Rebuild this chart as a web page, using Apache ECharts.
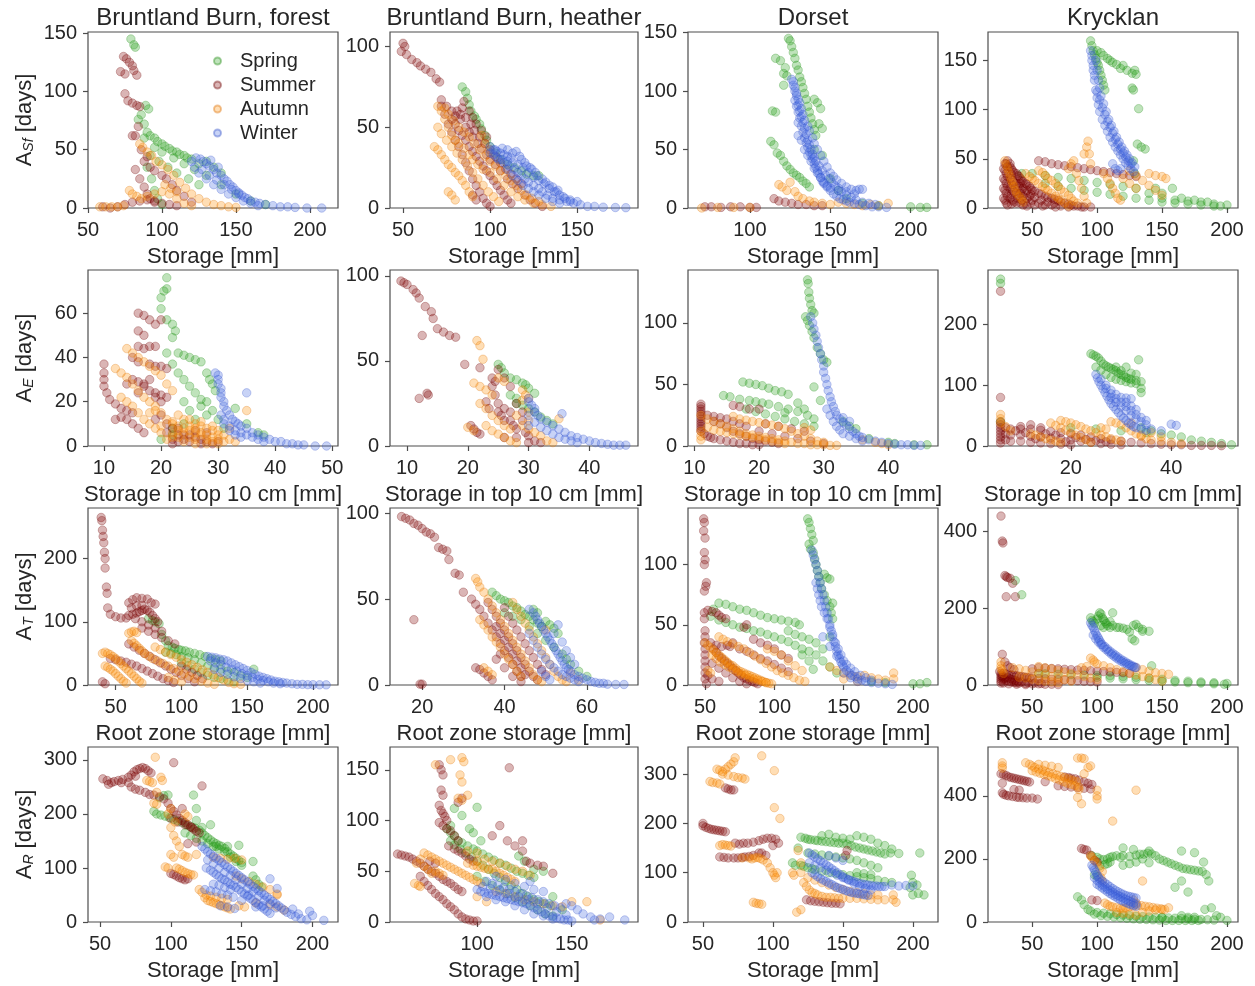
<!DOCTYPE html>
<html>
<head>
<meta charset="utf-8">
<script src="https://cdn.jsdelivr.net/npm/echarts@6/dist/echarts.min.js"></script>
<style>
html, body { margin: 0; padding: 0; background: #fff; }
#app { width: 1255px; height: 986px; }
</style>
</head>
<body>
<div id="app"></div>
<script>
// points are [storage, age], one array per panel and season

// --- row 1: A_Sf vs storage ---
var bbfSfSpr = [[79,145],[81,140],[82,138],[86,80],[84,76],[88,72],[89,88],[91,85],[90,65],[95,60],[100,55],[105,51],[110,48],[115,45],[120,42],[125,38],[88,60],[95,52],[100,48],[108,43],[115,38],[122,33],[130,28],[140,20],[150,12],[160,6],[170,3],[92,45],[98,40],[104,35],[110,30],[118,25],[125,20],[90,35],[93,25],[95,15],[97,8],[100,3],[130,40],[135,35],[140,30],[92,62],[97,57],[102,53],[107,49],[112,46],[117,43]];
var bbfSfSum = [[74,130],[76,128],[78,125],[80,122],[81,118],[83,114],[72,117],[75,115],[75,98],[77,92],[80,90],[83,88],[85,87],[80,62],[82,62],[84,70],[88,40],[92,35],[95,32],[100,28],[103,25],[107,20],[110,15],[115,10],[120,5],[82,33],[85,25],[88,18],[90,12],[92,8],[95,5],[75,3],[80,5],[85,6],[90,7],[95,6],[100,4],[105,3],[110,2],[60,1],[65,0],[70,1],[86,50],[90,44]];
var bbfSfAut = [[85,55],[87,52],[90,48],[93,45],[96,40],[100,37],[104,33],[108,28],[112,22],[116,17],[120,12],[125,8],[130,5],[135,3],[140,2],[145,1],[150,0.5],[78,15],[80,12],[83,10],[86,8],[90,10],[95,12],[100,14],[105,12],[110,8],[115,4],[120,2],[58,1],[62,1],[66,1],[70,1],[74,2],[102,20],[106,17],[110,14]];
var bbfSfWin = [[120,40],[123,43],[126,42],[128,40],[130,38],[132,36],[133,41],[135,33],[137,30],[138,35],[140,28],[142,25],[144,23],[146,20],[148,18],[150,15],[152,13],[154,11],[156,9],[158,8],[160,6],[163,5],[166,4],[170,3],[175,2],[180,1],[185,1],[190,0.5],[198,0],[208,0],[125,30],[130,25],[135,20],[140,16],[145,12],[150,9],[155,6],[160,4],[165,2],[122,35],[127,33],[132,28],[137,24],[142,20],[147,16],[152,12]];

var bbhSfSpr = [[84,75],[86,72],[87,68],[88,64],[89,60],[91,57],[92,55],[94,52],[95,49],[97,45],[98,42],[100,38],[103,34],[106,30],[110,27],[114,25],[118,23],[121,21],[125,20],[128,20]];
var bbhSfSum = [[50,102],[51,100],[49,97],[52,95],[55,92],[58,90],[60,88],[63,86],[66,84],[69,80],[71,78],[72,67],[75,63],[78,60],[80,57],[83,55],[86,50],[88,47],[90,44],[93,40],[95,37],[98,33],[100,30],[103,27],[106,23],[110,18],[113,15],[116,12],[120,8],[123,5],[126,3],[130,1],[72,63],[74,58],[76,52],[78,47],[80,42],[82,38],[84,33],[86,28],[88,23],[90,18],[92,14],[94,10],[96,6],[98,3],[100,1],[85,66],[84,62],[88,60],[90,56],[92,52],[95,48],[98,44],[90,8],[92,5],[78,55],[80,52],[82,48],[84,45],[86,42],[88,38],[90,35],[92,32],[94,29],[96,26],[98,23],[100,20],[102,17],[104,14],[106,11],[108,8],[110,5],[112,3],[81,60],[83,58],[86,56],[89,52],[91,48],[94,44],[97,40],[100,36],[103,32],[106,28],[109,24],[112,21],[115,18],[118,15]];
var bbhSfAut = [[70,63],[72,60],[74,55],[76,50],[78,45],[80,42],[82,40],[85,37],[88,33],[90,30],[93,27],[96,24],[100,22],[104,18],[108,14],[112,10],[116,7],[120,5],[125,3],[130,2],[135,1],[68,38],[70,36],[72,33],[74,30],[76,27],[78,25],[80,22],[82,20],[84,17],[86,14],[88,10],[90,7],[76,10],[78,8],[80,5],[95,45],[97,40],[99,35],[74,62],[76,58],[79,54],[82,50],[85,47],[88,44],[91,40],[94,36],[97,32],[100,29],[103,26],[106,23],[109,20],[112,17],[115,14],[118,11],[121,8],[124,6],[128,4],[70,50],[72,46],[75,42],[78,38],[81,34],[84,30],[87,26],[90,22],[93,18],[96,14],[99,10],[102,7],[105,4]];
var bbhSfWin = [[100,38],[102,36],[104,35],[106,34],[108,33],[110,32],[112,31],[105,30],[108,28],[111,26],[114,24],[116,22],[118,20],[120,18],[122,16],[125,14],[128,12],[130,10],[133,8],[136,6],[140,5],[144,4],[148,3],[152,2],[156,1],[160,1],[165,0.5],[172,0.3],[178,0.2],[115,35],[117,32],[120,28],[123,25],[126,22],[130,18],[134,14],[138,10],[142,7],[146,5],[150,4],[102,33],[104,31],[107,30],[110,29],[113,28],[116,27],[119,25],[122,22],[125,19],[128,17],[131,15],[134,12],[137,10],[140,8],[143,6],[146,4],[100,34],[103,36],[107,37],[110,36],[113,34],[118,30],[121,26],[124,24],[127,20],[132,16],[136,13],[139,11],[110,24],[113,20],[116,17],[119,14],[122,12],[125,10],[128,8],[132,6],[136,4],[140,3]];

var dorSfSpr = [[124,145],[125,143],[126,138],[127,133],[128,128],[129,122],[130,118],[131,112],[132,108],[133,103],[134,98],[135,93],[136,87],[137,82],[138,77],[139,72],[140,67],[141,62],[116,128],[119,126],[122,120],[121,115],[123,113],[121,105],[114,83],[116,82],[113,57],[115,54],[117,47],[119,45],[121,40],[123,36],[125,33],[127,30],[129,28],[131,26],[133,23],[135,21],[137,18],[140,93],[142,90],[144,85],[143,72],[145,68],[140,50],[145,45],[150,25],[155,15],[160,8],[170,4],[180,2],[200,1],[206,0.5],[210,0.5]];
var dorSfSum = [[115,8],[118,6],[122,5],[126,4],[130,3],[135,3],[140,2],[145,2],[72,1],[76,1],[82,0.5],[88,1],[94,1],[100,0.5],[104,0.5]];
var dorSfAut = [[118,20],[120,18],[123,15],[125,22],[128,14],[130,10],[133,8],[137,6],[140,5],[145,4],[150,3],[155,5],[160,4],[165,3],[170,2],[175,3],[180,2],[186,4],[70,0],[80,0.5],[90,0.5],[100,0.5]];
var dorSfWin = [[126,110],[127,105],[128,100],[129,96],[128,92],[129,87],[130,82],[131,77],[130,73],[132,70],[133,65],[134,60],[135,56],[136,52],[137,48],[138,45],[139,42],[140,38],[141,35],[142,32],[143,29],[144,26],[145,23],[146,21],[148,18],[150,15],[152,12],[154,10],[156,8],[158,7],[160,6],[162,5],[165,4],[168,3],[172,2],[176,1],[180,1],[185,0.5],[130,62],[132,58],[134,50],[136,45],[138,40],[140,34],[142,30],[144,26],[146,22],[148,19],[150,17],[155,15],[160,14],[165,12],[168,16],[127,108],[128,103],[129,98],[130,93],[130,88],[131,83],[132,78],[133,73],[134,68],[135,63],[136,58],[137,54],[138,50],[139,46],[140,43],[141,40],[143,36],[145,32],[147,28],[149,25],[151,22],[153,19],[155,17],[157,14],[160,11],[163,9],[166,7],[170,5],[174,4],[178,3],[131,90],[132,85],[133,80],[134,75],[136,70],[137,66],[139,60],[140,55],[142,50],[144,45],[146,40],[148,35],[150,30],[152,27],[154,24],[157,21],[160,18],[163,16],[166,15],[170,16]];

var krySfSpr = [[95,170],[96,165],[97,160],[98,156],[99,152],[100,148],[101,145],[102,140],[103,135],[104,130],[105,125],[106,120],[100,160],[103,158],[105,155],[108,152],[110,150],[112,148],[115,146],[118,142],[120,145],[123,140],[127,137],[129,140],[130,136],[127,122],[128,120],[132,101],[131,65],[134,62],[137,60],[128,48],[129,35],[42,35],[50,35],[60,33],[70,31],[80,30],[90,28],[100,26],[110,24],[120,22],[130,20],[140,15],[150,10],[160,8],[170,7],[180,6],[190,4],[200,3],[60,25],[70,22],[80,20],[90,18],[100,16],[110,14],[120,12],[130,10],[140,8],[150,6],[160,5],[170,4],[180,3],[190,2],[145,20],[150,15],[158,20],[165,10],[175,8],[185,6],[195,2]];
var krySfSum = [[28,40],[28,30],[28,20],[28,10],[30,45],[30,35],[30,25],[30,15],[30,5],[33,42],[33,30],[33,20],[33,10],[35,38],[35,28],[35,18],[35,8],[38,35],[38,25],[38,15],[38,5],[40,32],[40,22],[40,12],[42,28],[42,18],[42,8],[45,25],[45,15],[45,5],[48,22],[48,12],[50,18],[50,8],[55,15],[55,5],[60,12],[60,3],[65,10],[65,3],[70,8],[75,5],[80,3],[85,2],[90,1],[95,1],[31,48],[33,45],[55,48],[60,47],[65,45],[70,44],[75,43],[80,42],[85,41],[90,40],[95,39],[100,38],[105,37],[110,36],[115,35],[120,34],[125,33],[130,32],[29,45],[29,38],[29,28],[29,18],[29,8],[31,42],[31,32],[31,22],[31,12],[31,3],[34,40],[34,34],[34,24],[34,14],[34,4],[36,36],[36,26],[36,16],[36,6],[39,33],[39,20],[39,10],[41,30],[41,25],[41,15],[41,5],[43,27],[43,20],[43,12],[43,3],[46,24],[46,18],[46,10],[46,2],[49,20],[49,14],[49,5],[52,17],[52,11],[52,3],[57,14],[57,8],[62,11],[62,6],[67,9],[67,5],[72,6],[72,2],[78,4],[82,2],[88,1],[58,2],[68,1],[78,1]];
var krySfAut = [[29,48],[31,40],[33,32],[35,25],[37,18],[40,12],[43,6],[45,35],[50,30],[55,25],[60,20],[65,15],[70,10],[75,5],[78,2],[55,38],[60,33],[65,28],[70,22],[75,16],[80,10],[85,5],[78,40],[80,45],[82,48],[84,35],[86,28],[88,20],[90,12],[92,5],[90,55],[92,62],[93,68],[94,55],[95,45],[105,35],[108,30],[110,25],[112,20],[114,15],[116,10],[118,8],[125,38],[130,33],[135,28],[140,23],[145,18],[150,13],[140,35],[145,33],[150,32],[153,30],[120,30],[125,25],[130,20],[30,44],[32,36],[34,28],[36,22],[38,15],[42,9],[48,32],[52,28],[58,22],[62,18],[68,12],[72,8],[58,36],[62,30],[68,25],[72,19],[78,13],[82,7]];
var krySfWin = [[95,160],[96,150],[97,140],[98,130],[99,120],[100,112],[101,105],[102,98],[104,90],[106,84],[108,78],[110,72],[112,67],[114,62],[116,58],[118,54],[120,50],[122,46],[124,43],[126,40],[128,37],[100,118],[102,110],[104,102],[106,95],[108,88],[110,82],[112,76],[114,70],[116,65],[118,60],[120,56],[122,52],[124,48],[126,45],[112,45],[114,40],[116,38],[118,40],[96,155],[97,145],[98,135],[99,150],[100,140],[101,130],[102,122],[103,114],[105,106],[107,98],[109,90],[111,84],[113,78],[115,72],[117,67],[119,62],[121,58],[123,54],[125,50],[127,46],[129,42]];

// --- row 2: A_E vs storage in top 10 cm ---
var bbfESpr = [[21,76],[21,71],[20.5,70],[20,67],[20,62],[21,57],[22,55],[22.5,52],[22,49],[21,42],[23,42],[24,41],[25,40],[26,39],[27,38],[22,37],[23,33],[24,30],[25,27],[26,24],[27,21],[28,33],[28.5,30],[29,28],[29.5,25],[28,20],[29,16],[30,12],[31,8],[22,8],[24,10],[26,12],[28,14],[33,17],[35,10],[37,6],[38,5],[24,20],[25,16],[27,18],[20,3],[22,5]];
var bbfESum = [[16,60],[17,59],[18,57],[19,55],[20,57],[16,52],[17,50],[16,45],[17,44],[18,45],[19,45],[15,40],[16,38],[18,37],[19,36],[20,36],[21,35],[10,37],[10,33],[10,30],[10,27],[10.5,24],[11,21],[12,19],[13,17],[14,16],[15,15],[17,27],[18,25],[19,24],[20,23],[21,22],[16,24],[17,28],[18,30],[19,22],[20,20],[14,12],[15,10],[16,8],[13,13],[12,12],[17,6],[21,10],[22,8],[23,5],[24,3],[25,2],[26,4],[27,3],[28,2],[22,3],[23,2],[14,28],[15,30],[16,29],[19,12],[20,14],[22,1],[24,5],[25,5],[27,1],[29,1],[30,2],[21,6],[23,8],[26,7],[28,6]];
var bbfEAut = [[14,44],[15,42],[16,40],[17,38],[18,36],[19,34],[20,32],[21,28],[22,25],[12,35],[13,33],[14,31],[15,28],[16,25],[17,22],[18,20],[19,18],[20,15],[21,12],[22,10],[23,9],[24,8],[25,7],[26,6],[27,5],[28,5],[29,4],[30,3],[31,2],[13,22],[14,20],[15,18],[16,15],[17,12],[18,10],[19,8],[20,6],[22,4],[24,2],[26,1],[28,1],[30,1],[25,12],[26,10],[27,9],[28,8],[29,7],[23,14],[24,12],[35,16],[32,3],[33,2],[18,15],[19,16],[21,3],[22,6],[23,4],[24,6],[25,4],[26,3],[27,6],[28,3],[29,2],[30,5],[22,11],[25,9],[27,11],[29,9],[31,5],[32,8],[20,9],[23,7],[26,8],[30,7]];
var bbfEWin = [[29.5,33],[30,32],[30,30],[30,28],[30.5,26],[30.5,24],[30.5,22],[31,20],[31,18],[31.5,16],[32,14],[32.5,12],[33,11],[33.5,10],[34,9],[35,8],[35,24],[36,6],[37,5],[38,4],[39,3],[40,2],[41,2],[42,1],[43,1],[44,0.5],[45,0.5],[47,0],[49,0],[31,12],[32,9],[33,7],[34,6],[35,5],[36,4],[37,3],[38,2],[30.5,14],[31,10],[32,7],[33,5],[34,4]];

var bbhESpr = [[25,48],[25.5,46],[26,43],[27,40],[28,39],[29,37],[29.5,36],[30,34],[31,31],[28,25],[29,24],[30,22],[31,20],[32,17],[33,15],[34,13],[27,30],[28,28]];
var bbhESum = [[9,97],[9.5,96],[10,95],[11,92],[11.5,90],[12,87],[13,82],[14,79],[14.3,75],[15,69],[16,67],[17,65],[18,64],[12.5,65],[13.3,31],[13.5,30],[12,28],[19.5,48],[22,46],[20.5,12],[21,10],[21.5,8],[22,7],[24,40],[24,35],[24.5,30],[25,25],[25,20],[25.5,18],[26,15],[26,22],[27,20],[27,15],[27.5,12],[28,10],[28,25],[29,20],[29,15],[29.5,8],[30,6],[25,45],[24.5,38],[23,26],[23.5,22],[26,40],[27,35],[30,2],[28,5],[26,5],[31,3],[32,2]];
var bbhEAut = [[21.5,62],[22,59],[22.5,51],[21,37],[22,35],[23,33],[24,30],[22,25],[23,22],[24,18],[25,15],[26,12],[27,10],[23,12],[24,9],[25,7],[26,5],[27,3],[28,2],[29,33],[29,27],[30,20],[30,15],[29,12],[30,10],[31,8],[32,6],[28,18],[35,16],[33,3],[34,2],[20,11],[21,9],[25,40],[26,38],[29.5,30],[30,28]];
var bbhEWin = [[30,28],[30,26],[30.5,24],[31,22],[31,20],[31.5,18],[32,16],[33,14],[34,12],[35,10],[36,8],[37,6],[38,5],[39,4],[40,3],[41,2],[42,1.5],[43,1],[44,0.5],[45,0.5],[46,0.5],[35.5,19],[31,14],[32,11],[33,9],[34,7],[35,5],[36,4],[37,3],[38,2],[30,18],[30,12]];

var dorESpr = [[27.5,135],[27.6,132],[27.7,125],[27.8,120],[28,115],[28.2,110],[28.5,108],[27.2,105],[27.5,102],[27.8,98],[28.2,93],[28.5,88],[29,80],[29.5,75],[30,70],[30.5,68],[17.5,52],[18.5,51],[19.5,50],[20.5,49],[21.5,47],[22.5,45],[23.5,44],[24.5,42],[14.5,41],[15.5,40],[17,38],[18.5,37],[19.5,36],[20.5,35],[21.5,34],[23,32],[24.5,30],[26,28],[27.5,25],[28.5,22],[18,30],[19.5,28],[21,26],[22.5,24],[24,22],[25.5,20],[27,18],[28.5,16],[29.5,37],[28.5,48],[27,30],[26,35],[24,27],[33,20],[34,16],[35,14],[37,6],[40,3],[41,2],[46,1],[44,1]];
var dorESum = [[11,34],[11,32],[11,30],[11,28],[11,26],[11,24],[11,22],[11,20],[11,18],[11,16],[11,14],[11,12],[11.5,10],[12,8],[12.5,7],[13,6],[14,5],[15,4],[16,3],[17,2],[18,2],[19,1],[20,1],[12,25],[13,24],[14,23],[15,22],[16,20],[17,18],[18,16],[16,33],[17,32],[18.5,30],[13,20],[14,18],[15,15],[16,12],[17,10],[18,8],[19,6],[20,5],[21,4],[22,3],[23,2],[20,12],[22,10],[24,8],[26,6],[28,4],[30,2],[21,18],[23,16],[25,14],[27,12],[20,30]];
var dorEAut = [[11,25],[12,22],[13,20],[14,18],[15,16],[16,14],[17,12],[18,10],[19,9],[20,8],[21,7],[22,6],[23,5],[24,4],[25,3],[26,2],[27,2],[28,1],[29,1],[30,1],[31,0.5],[32,0.5],[12,15],[13,13],[14,12],[15,11],[16,10],[17,9],[18,8],[19,7],[20,6],[21,5],[22,4],[23,3],[24,2],[16,24],[17,22],[18,21],[19,20],[20,19],[21,18],[22,17],[23,16],[24,14],[25,12],[26,10],[27,8],[28,6],[29,4],[30,3],[27,15],[28,13],[36,5],[38,3],[39,2],[40,1],[11,12],[11,8],[11,5]];
var dorEWin = [[28,105],[28.3,100],[28.5,95],[28.8,90],[29,85],[29.2,80],[29.5,75],[29.7,70],[30,65],[30,60],[30.3,55],[30.5,50],[30.7,45],[31,40],[31.2,36],[31.5,32],[31.8,28],[32,25],[32.5,22],[33,19],[33.5,17],[34,14],[34.5,12],[35,10],[35.5,8],[36,7],[37,5],[38,4],[39,3],[40,2],[41,1.5],[42,1],[43,1],[44,0.5],[45,0.5],[33,23],[34,20],[30.5,30],[31,25],[31.5,20],[32,16],[32.5,13],[33,10],[34,8],[35,6],[36,4]];

var kryESpr = [[6,275],[6,268],[24,152],[24.5,150],[25,148],[25.5,145],[26,140],[26.5,135],[27,132],[27.5,130],[28,128],[28.5,126],[29,124],[29.5,120],[30,118],[30.5,116],[31,113],[31.5,111],[32,110],[33,108],[34,106],[25,130],[26,125],[27,118],[28,113],[29,110],[30,108],[31,106],[32,104],[33,103],[34,95],[34,88],[33.5,142],[31,130],[30,124],[29,130],[32,120],[33,118],[6,40],[20,30],[25,28],[30,25],[35,22],[40,18],[42,15],[44,10],[46,8],[48,6],[50,4],[52,2],[36,25],[38,20],[34,30]];
var kryESum = [[6,255],[6,80],[6,40],[6,35],[6,30],[6,25],[6,20],[6,15],[6,10],[6,5],[7,30],[7,20],[7,10],[8,28],[8,18],[8,8],[10,28],[10,18],[10,8],[12,28],[12,16],[12,6],[14,26],[14,15],[14,5],[16,24],[16,13],[16,4],[18,22],[18,12],[18,3],[20,20],[20,10],[20,2],[22,18],[22,8],[24,15],[24,6],[26,12],[26,4],[28,10],[28,3],[30,8],[30,2],[32,6],[34,5],[36,4],[38,3],[40,2],[42,2],[44,1],[46,1],[48,1],[50,0.5],[10,32],[14,30],[12,35],[9,25],[11,22],[13,12],[15,20],[17,18],[19,7],[21,14],[23,11],[25,9],[27,7]];
var kryEAut = [[6,52],[6,45],[6,38],[7,32],[8,25],[16,38],[17,34],[18,30],[19,26],[20,22],[21,18],[22,14],[23,10],[24,6],[18,42],[19,40],[20,38],[21,35],[22,32],[23,28],[24,25],[25,22],[26,18],[27,15],[28,12],[29,10],[30,8],[28,40],[29,38],[30,35],[31,30],[32,25],[33,20],[34,16],[35,12],[36,10],[38,8],[40,6],[42,4],[12,20],[13,18],[14,15],[15,12],[16,10],[17,8],[18,6],[32,38],[34,18],[36,22],[38,15],[26,30],[27,28]];
var kryEWin = [[25,118],[25.3,112],[25.6,106],[26,100],[26.4,94],[26.8,88],[27.2,82],[27.6,76],[28,70],[28.5,65],[29,60],[29.5,55],[30,50],[30.5,46],[31,42],[31.5,38],[32,35],[32.5,32],[33,30],[34,28],[35,26],[27,100],[28,92],[29,85],[30,80],[31,79],[32,78],[28,80],[29,72],[30,65],[31,58],[32,50],[33,45],[34,40],[35,35],[31,72],[32,66],[33,60],[40,36],[41,34],[36,28],[38,25],[26,110],[27,95],[28,86],[29,78],[30,72],[31,65],[32,58],[33,52],[34,47],[35,42]];

// --- row 3: A_T vs root zone storage ---
var bbfTSpr = [[75,105],[78,102],[80,100],[83,97],[85,80],[88,70],[90,62],[93,60],[95,58],[98,56],[100,55],[103,54],[106,52],[110,50],[114,48],[118,45],[122,42],[126,40],[130,38],[88,52],[92,50],[96,48],[100,45],[105,43],[110,40],[115,35],[120,30],[125,27],[130,25],[135,22],[140,20],[145,15],[150,12],[155,25],[100,35],[105,30],[110,25],[115,20],[120,15],[125,12],[130,10],[135,8],[140,5]];
var bbfTSum = [[39,265],[39.5,260],[40,245],[40.5,235],[41,225],[41.5,210],[42,200],[42,185],[43,155],[43.5,145],[44,122],[46,112],[50,108],[54,106],[58,106],[60,110],[63,112],[66,114],[68,116],[70,118],[72,120],[74,118],[76,115],[78,110],[80,105],[82,100],[60,130],[63,135],[66,138],[70,137],[74,136],[77,130],[80,128],[62,122],[66,125],[70,126],[65,105],[70,100],[75,95],[80,90],[85,85],[70,90],[75,85],[80,80],[85,75],[90,70],[95,65],[46,42],[50,40],[54,38],[58,36],[62,33],[66,30],[70,26],[74,22],[78,18],[82,14],[86,10],[90,7],[94,4],[60,65],[64,60],[68,55],[72,50],[76,45],[80,40],[84,35],[88,30],[92,25],[96,20],[100,15],[105,10],[110,5],[40,5],[42,2],[100,30],[104,25],[108,20],[112,15],[116,10]];
var bbfTAut = [[60,82],[62,84],[64,85],[66,83],[62,70],[64,66],[66,62],[68,58],[70,54],[72,50],[75,46],[78,42],[82,38],[86,34],[90,30],[94,26],[98,22],[102,18],[106,14],[110,10],[115,6],[120,3],[125,1],[40,50],[42,52],[44,50],[46,48],[48,45],[50,42],[52,38],[54,34],[56,30],[58,26],[60,22],[62,18],[64,14],[66,10],[68,6],[70,3],[80,60],[84,56],[88,52],[92,48],[96,44],[100,40],[104,36],[108,32],[112,28],[116,24],[120,20],[124,16],[128,12],[132,8],[136,4],[140,2],[145,1],[42,30],[44,28],[46,25],[48,22],[50,18],[52,14],[54,10],[56,6],[58,3],[90,12],[95,8],[100,5]];
var bbfTWin = [[120,45],[123,44],[126,43],[129,41],[132,40],[135,38],[138,35],[141,32],[144,29],[147,26],[150,23],[153,20],[156,17],[159,14],[162,12],[165,10],[168,8],[171,6],[174,5],[177,4],[180,3],[184,2],[188,1],[192,1],[196,0.5],[200,0.5],[205,0.3],[210,0.2],[122,38],[126,35],[130,32],[134,28],[138,25],[142,22],[146,18],[150,15],[154,12],[158,9],[162,7],[166,5],[170,3],[175,2],[125,25],[130,20],[135,17],[140,13],[145,10],[150,7],[155,5],[160,3]];

var bbhTSpr = [[37,54],[38,52],[39,50],[40,49],[41,48],[42,46],[43,45],[44,43],[45,41],[46,40],[47,38],[48,36],[49,34],[50,37],[51,35],[52,33],[53,30],[40,42],[42,40],[44,38],[46,34],[48,30],[50,26],[52,22],[54,18],[55,15],[56,12],[58,8],[60,5],[47,44],[48,42]];
var bbhTSum = [[15,98],[16,97],[17,96],[18,94],[19,93],[20,91],[21,89],[22,88],[23,86],[24,80],[25,79],[26,78],[26.5,73],[28,65],[29,64],[30,54],[18,38],[19.5,0.5],[20,0.5],[32,50],[33,47],[34,44],[35,40],[36,36],[37,32],[38,28],[39,24],[40,20],[41,16],[42,12],[43,8],[44,5],[33,10],[34,9],[35,7],[36,5],[37,3],[36,48],[37,44],[38,40],[39,36],[40,32],[41,28],[42,24],[43,20],[44,16],[45,12],[46,8],[47,5],[48,3],[40,45],[41,40],[42,36],[43,32],[44,28],[45,24],[46,20],[47,16],[48,12],[49,9],[50,6],[38,15],[39,18],[40,10],[42,5],[44,2],[38,34],[39,30],[40,26],[41,22],[42,18],[43,14],[44,10],[45,6]];
var bbhTAut = [[33,62],[33.5,60],[34,57],[35,54],[36,50],[37,46],[38,42],[39,38],[40,34],[41,30],[42,26],[43,22],[44,18],[45,14],[46,10],[47,6],[48,3],[49,2],[34,38],[35,35],[36,32],[37,28],[38,25],[39,22],[40,18],[41,15],[42,12],[43,8],[44,5],[42,48],[43,44],[44,40],[45,36],[46,32],[47,28],[48,24],[49,20],[50,16],[51,12],[52,8],[53,5],[54,3],[55,2],[35,10],[36,8],[37,6],[56,7],[58,3],[50,32]];
var bbhTWin = [[46,44],[47,42],[47.5,40],[48,38],[48.5,36],[49,34],[49.5,32],[50,30],[50.5,28],[51,26],[51.5,24],[52,22],[52.5,20],[53,18],[53.5,16],[54,14],[54.5,12],[55,10],[55.5,9],[56,8],[57,6],[58,5],[59,4],[60,3],[61,2],[62,1.5],[63,1],[64,1],[65,0.5],[67,0.3],[69,0.3],[46,30],[47,26],[48,22],[49,18],[50,15],[51,12],[52,10],[53,8],[54,6],[55,5],[56,4],[57,3],[58,2],[49,8],[50,5],[51,3],[52,30],[53,35],[54,25],[55,20],[56,16],[57,12]];

var dorTSpr = [[124,138],[125,135],[126,130],[127,125],[128,120],[125,117],[126,113],[128,110],[129,105],[130,100],[131,95],[132,90],[133,85],[134,80],[136,75],[138,70],[140,65],[141,60],[142,55],[136,92],[138,89],[140,88],[142,68],[56,63],[60,68],[65,67],[70,65],[75,63],[80,62],[85,60],[90,58],[95,56],[100,55],[105,54],[110,53],[115,52],[118,50],[54,57],[60,54],[65,52],[70,50],[75,48],[80,47],[85,45],[90,44],[95,42],[100,40],[105,38],[110,36],[115,33],[120,30],[125,28],[130,25],[135,20],[140,15],[145,10],[110,45],[115,42],[120,40],[125,38],[130,35],[135,30],[120,25],[125,20],[128,13],[140,40],[170,3],[180,2],[200,1],[205,1],[210,2]];
var dorTSum = [[49,138],[49.5,135],[49,128],[50,122],[49.5,110],[50,104],[49.5,100],[51,85],[50.5,82],[49.5,78],[49.5,60],[49.5,55],[50,45],[50,40],[49.5,35],[50,30],[50,25],[50,20],[50,15],[50,10],[50,5],[51,1],[52,62],[55,61],[58,60],[60,58],[62,56],[65,55],[54,35],[56,30],[58,27],[60,24],[62,22],[64,20],[66,18],[68,16],[70,14],[72,12],[74,10],[76,8],[78,6],[80,5],[82,4],[84,3],[86,2],[88,1],[55,18],[60,14],[65,10],[70,6],[75,3],[80,1],[58,33],[62,32],[80,50],[78,48],[85,38],[90,35],[95,33],[100,30],[105,25],[110,22],[70,35],[75,30],[80,28],[85,25],[90,22],[95,20],[100,17],[105,14],[110,11],[52,8],[55,5],[60,3],[66,33],[68,32]];
var dorTAut = [[50,35],[52,33],[54,31],[56,29],[58,27],[60,25],[62,23],[64,21],[66,19],[68,17],[70,16],[72,14],[74,12],[76,11],[78,10],[80,9],[82,8],[84,7],[86,6],[88,5],[90,4],[92,3],[94,2],[96,1.5],[98,1],[55,25],[58,22],[61,19],[64,17],[67,15],[70,13],[73,11],[76,9],[79,8],[82,6],[85,5],[88,4],[91,3],[94,2],[60,40],[63,38],[66,36],[70,34],[74,32],[78,30],[82,27],[86,24],[90,21],[94,18],[98,15],[102,12],[106,10],[110,8],[114,6],[118,4],[122,3],[95,30],[100,28],[105,25],[110,20],[115,16],[120,12],[140,15],[145,12],[150,10],[155,8],[160,7],[165,8],[170,6],[175,5],[180,4],[186,10],[186,5],[150,5],[160,3],[52,12],[54,10]];
var dorTWin = [[127,112],[128,108],[129,104],[130,100],[131,95],[132,90],[133,85],[134,80],[135,75],[136,70],[137,65],[138,60],[139,55],[140,50],[141,45],[142,40],[143,36],[144,32],[145,28],[146,25],[147,22],[148,19],[149,17],[150,15],[152,12],[154,10],[156,8],[158,7],[160,5],[163,4],[166,3],[170,2],[175,1.5],[180,1],[185,0.5],[130,85],[131,80],[132,75],[133,70],[134,65],[136,60],[138,55],[140,48],[142,42],[144,35],[146,30],[148,25],[150,20],[152,17],[155,14],[158,11],[162,8],[166,6],[170,4],[135,40],[140,32],[145,24],[150,10],[155,6],[160,3]];

var kryTSpr = [[42,235],[37,272],[95,175],[96,168],[97,165],[98,160],[100,172],[101,180],[102,188],[103,185],[104,175],[105,170],[106,165],[107,160],[108,155],[110,150],[112,188],[103,155],[105,150],[110,165],[112,155],[115,150],[117,150],[120,148],[123,145],[125,138],[127,120],[129,115],[128,155],[130,158],[132,150],[135,145],[140,140],[142,50],[135,140],[55,30],[60,29],[70,28],[80,27],[90,26],[100,25],[110,24],[120,22],[130,20],[140,18],[150,15],[160,12],[170,10],[180,8],[190,6],[200,4],[100,20],[110,18],[120,16],[130,14],[140,12],[150,10],[160,8],[170,6],[180,5],[190,3],[198,2]];
var kryTSum = [[26,440],[27,375],[27.5,370],[29,285],[30,282],[31,280],[33,278],[30,230],[35,265],[37,230],[27,80],[29,60],[31,50],[33,45],[36,40],[25,35],[26,30],[26,25],[26,20],[26,15],[26,10],[26,5],[28,30],[30,28],[32,27],[34,26],[36,25],[38,24],[40,23],[42,22],[44,21],[46,20],[48,19],[50,18],[55,17],[60,16],[65,15],[70,14],[75,13],[80,12],[85,11],[90,10],[95,9],[100,8],[28,15],[30,12],[32,10],[34,8],[36,7],[38,6],[40,5],[45,4],[50,3],[55,3],[60,2],[65,2],[70,1],[28,5],[32,3],[38,2],[45,1],[50,42],[55,45],[60,44],[65,43],[70,42],[75,41],[80,40],[85,39],[90,38],[95,37],[100,36],[105,35],[110,34],[115,33],[120,32],[125,31],[27,22],[29,18],[31,20],[33,16],[35,14],[37,12],[39,10],[42,8],[47,6],[52,5],[57,4]];
var kryTAut = [[26,60],[26,50],[26,42],[27,38],[28,30],[35,45],[40,42],[45,38],[50,34],[55,30],[60,26],[65,22],[70,18],[75,14],[80,10],[55,48],[60,45],[65,42],[70,38],[75,34],[80,30],[85,26],[90,22],[95,18],[100,14],[88,45],[92,48],[95,70],[97,65],[98,60],[100,55],[105,50],[110,45],[115,40],[120,35],[125,30],[130,26],[135,22],[140,18],[145,14],[150,10],[130,45],[135,40],[140,36],[145,32],[150,30],[155,28],[40,20],[45,18],[50,15],[55,12],[60,10],[65,8],[70,6]];
var kryTWin = [[95,162],[96,155],[97,150],[98,142],[99,135],[100,128],[101,122],[102,116],[103,110],[104,105],[106,100],[108,94],[110,88],[112,83],[114,78],[116,73],[118,68],[120,64],[122,60],[124,56],[126,52],[128,49],[130,46],[97,130],[99,120],[101,112],[103,105],[105,98],[107,92],[109,86],[111,80],[113,75],[115,70],[117,65],[119,61],[121,57],[123,54],[125,51],[127,48],[129,45]];

// --- row 4: A_R vs storage ---
var bbfRSpr = [[92,230],[95,234],[98,235],[88,205],[90,200],[93,198],[96,196],[99,193],[102,190],[105,187],[108,184],[111,180],[114,177],[117,174],[120,170],[122,165],[124,160],[126,156],[128,152],[130,148],[132,145],[134,142],[136,140],[138,136],[140,130],[142,126],[144,122],[146,118],[148,114],[150,110],[110,165],[114,160],[118,155],[122,150],[126,145],[130,140],[134,135],[138,130],[142,120],[146,112],[150,105],[118,210],[116,235],[118,188],[122,175],[128,180],[132,140],[140,140],[148,142],[158,112],[158,85],[160,78],[162,70],[164,65]];
var bbfRSum = [[52,265],[55,262],[58,258],[60,260],[63,262],[66,264],[70,268],[72,272],[74,278],[76,282],[78,284],[80,286],[82,284],[84,280],[86,276],[72,250],[75,246],[78,244],[82,240],[85,236],[88,235],[92,232],[95,228],[98,220],[100,210],[102,205],[104,198],[106,192],[108,188],[110,184],[112,180],[114,176],[116,172],[118,168],[120,165],[100,192],[105,185],[110,180],[115,175],[102,295],[108,210],[122,252],[112,145],[118,148],[104,85],[106,82],[108,80],[110,78],[112,80],[100,90],[102,88],[75,270],[70,258],[65,258],[56,255]];
var bbfRAut = [[83,262],[85,260],[87,258],[89,305],[93,268],[94,262],[90,240],[88,220],[90,218],[100,210],[98,200],[100,175],[102,160],[104,150],[106,140],[108,125],[110,122],[112,120],[100,125],[102,120],[104,100],[106,98],[108,95],[110,92],[112,90],[114,88],[116,87],[96,102],[98,100],[118,125],[120,60],[122,55],[124,45],[126,40],[128,38],[130,36],[132,34],[134,32],[136,30],[138,28],[140,26],[142,24],[125,50],[128,48],[132,46],[136,44],[140,42],[130,120],[135,118],[140,116],[145,118],[150,115],[146,85],[150,80],[155,75],[160,70],[165,65],[170,60],[175,50],[148,30],[152,28],[160,35],[110,200],[112,195],[170,32],[175,28],[180,22],[175,52],[103,185]];
var bbfRWin = [[122,140],[124,135],[126,130],[128,126],[130,122],[132,118],[134,114],[136,110],[138,106],[140,102],[142,98],[144,94],[146,90],[148,86],[150,82],[152,78],[154,74],[156,70],[158,66],[160,62],[162,58],[164,54],[166,50],[168,46],[170,42],[172,38],[174,34],[176,30],[178,26],[180,22],[182,18],[185,14],[188,10],[192,6],[196,4],[200,12],[208,3],[125,100],[128,96],[130,92],[132,88],[134,84],[136,80],[138,78],[140,74],[142,70],[144,68],[146,64],[148,60],[150,56],[152,52],[154,48],[156,44],[158,40],[160,36],[162,32],[164,28],[166,24],[168,20],[170,16],[124,60],[128,58],[132,56],[136,52],[140,50],[144,46],[130,70],[134,68],[138,64],[142,60],[135,30],[140,28],[145,25],[150,40],[155,50],[160,28],[165,30],[170,80],[175,62],[186,24],[190,15],[198,20],[126,115],[130,108],[134,100],[138,92],[142,86],[146,78],[150,70],[154,62],[158,56],[162,48],[166,40],[170,34],[174,26]];

var bbhRSpr = [[88,112],[92,105],[86,95],[84,92],[86,88],[88,85],[90,80],[92,78],[95,75],[98,72],[100,70],[103,67],[106,64],[109,61],[112,58],[115,56],[118,53],[121,50],[124,48],[127,46],[130,44],[96,92],[100,113],[98,88],[102,80],[86,80],[88,76],[91,72],[94,68],[97,64],[100,60],[103,56],[106,52],[109,48],[112,44],[115,40],[118,36],[121,32],[124,28],[127,25],[130,22],[133,20],[136,18],[139,16],[100,45],[104,40],[108,36],[112,32],[116,28],[120,24],[124,20],[128,16],[132,12],[136,8],[140,6],[125,60],[130,52],[135,50],[140,25],[145,12],[122,65]];
var bbhRSum = [[58,67],[60,66],[62,65],[64,64],[66,62],[68,60],[70,58],[72,55],[74,52],[76,50],[78,48],[80,45],[82,42],[84,40],[86,38],[88,35],[90,32],[92,30],[70,45],[72,40],[74,36],[76,32],[78,28],[80,25],[82,22],[84,18],[86,15],[88,12],[90,8],[92,5],[94,3],[96,2],[98,1],[100,1],[80,155],[81,150],[82,145],[81,130],[82,125],[80,115],[81,110],[82,107],[83,104],[84,100],[80,98],[82,95],[84,92],[86,90],[88,85],[90,80],[85,75],[88,72],[90,70],[92,68],[94,65],[96,62],[98,60],[90,118],[92,122],[117,152],[112,95],[108,85],[116,80],[120,75],[124,80],[124,70],[126,60],[128,58],[132,56],[140,48],[135,55],[75,60],[78,58]];
var bbhRAut = [[78,155],[86,160],[92,162],[93,158],[91,145],[92,138],[95,125],[92,120],[90,122],[78,50],[80,48],[82,46],[72,68],[74,66],[76,64],[78,62],[80,60],[82,58],[84,56],[86,54],[88,52],[90,50],[92,48],[94,46],[96,44],[98,42],[100,40],[102,38],[70,62],[68,58],[72,55],[74,52],[76,48],[67,38],[69,36],[70,35],[95,58],[98,56],[100,55],[102,54],[104,53],[106,52],[108,52],[110,50],[112,48],[114,46],[116,44],[118,42],[120,40],[100,60],[104,62],[108,60],[112,58],[116,55],[120,52],[124,50],[128,46],[100,68],[95,70],[110,30],[115,28],[120,25],[125,22],[130,20],[135,18],[140,16],[145,15],[150,20],[158,20],[165,2],[100,25],[105,20]];
var bbhRWin = [[100,32],[102,30],[104,29],[106,28],[108,27],[110,26],[112,25],[114,24],[116,23],[118,22],[120,21],[122,20],[124,19],[126,18],[128,16],[130,14],[132,12],[134,10],[136,8],[138,6],[140,5],[142,4],[144,3],[146,2],[148,2],[150,1],[105,40],[108,38],[111,36],[114,34],[117,32],[120,30],[123,28],[126,26],[129,24],[132,22],[135,20],[138,18],[141,16],[144,14],[147,18],[150,16],[153,12],[156,8],[160,5],[165,3],[170,5],[178,2],[105,25],[110,22],[115,20],[120,16],[125,12],[130,8],[135,6],[140,3],[110,45],[115,42],[120,38],[125,35],[130,32],[135,30],[128,40],[162,2],[103,35],[107,33],[112,31],[117,28],[122,25],[127,22],[132,18],[137,14],[142,10],[147,7]];

var dorRSpr = [[123,170],[125,168],[127,167],[130,166],[132,165],[135,164],[138,163],[141,162],[144,161],[147,160],[150,160],[153,158],[156,155],[159,152],[162,150],[165,148],[168,146],[171,144],[174,142],[177,140],[180,138],[184,140],[190,139],[199,95],[200,80],[198,70],[200,55],[204,58],[208,55],[205,140],[203,75],[120,172],[118,150],[114,120],[116,115],[120,115],[122,113],[125,110],[128,108],[130,106],[135,103],[140,100],[145,98],[150,96],[155,94],[160,92],[165,90],[170,88],[175,85],[180,82],[185,80],[125,140],[130,138],[135,136],[140,134],[145,132],[150,130],[155,128],[160,125],[165,120],[170,115],[175,110],[135,175],[140,178],[145,172],[150,170],[155,168],[160,175],[165,172],[170,168],[175,160],[180,155],[185,148],[160,100],[165,98],[170,96]];
var dorRSum = [[50,200],[50,195],[52,192],[54,190],[56,188],[58,187],[60,186],[62,185],[64,184],[66,183],[68,270],[70,268],[72,268],[66,272],[62,132],[65,131],[68,130],[72,130],[75,130],[78,131],[80,132],[83,133],[86,135],[90,140],[92,140],[95,135],[73,160],[76,158],[79,160],[82,160],[86,162],[90,165],[93,168],[96,170],[99,170],[102,168],[100,155],[104,160],[124,45],[127,43],[130,42],[133,41],[136,40],[139,39],[142,38],[145,38],[148,37],[152,135],[153,145]];
var dorRAut = [[55,285],[57,283],[60,282],[62,280],[64,305],[66,310],[68,315],[70,320],[72,325],[73,333],[60,310],[62,308],[64,300],[68,298],[72,295],[75,293],[78,292],[80,290],[92,337],[101,307],[101,232],[105,210],[62,155],[64,157],[66,156],[68,155],[70,154],[83,130],[85,128],[87,130],[89,131],[91,129],[93,126],[86,40],[88,38],[90,37],[92,36],[96,120],[98,110],[100,100],[101,95],[102,90],[103,100],[114,100],[115,95],[117,20],[120,25],[118,145],[120,120],[120,100],[122,80],[124,72],[126,65],[128,60],[130,58],[132,55],[135,52],[138,50],[141,50],[144,49],[147,48],[150,48],[155,48],[160,48],[165,47],[170,46],[175,45],[180,45],[186,45],[188,40],[125,90],[130,85],[135,80],[140,75],[145,70],[150,66],[155,62],[160,60],[165,58],[170,55],[175,55],[186,55],[78,130]];
var dorRWin = [[126,140],[128,136],[130,132],[132,128],[134,124],[136,120],[138,116],[140,112],[142,108],[144,104],[146,100],[148,96],[150,92],[152,89],[154,86],[156,84],[158,82],[160,80],[162,78],[164,77],[166,76],[168,75],[170,74],[172,73],[174,73],[176,72],[178,72],[180,72],[185,75],[190,73],[195,74],[200,73],[128,100],[130,96],[132,92],[134,88],[136,85],[138,82],[140,79],[142,76],[144,73],[146,70],[148,68],[150,66],[152,64],[154,62],[156,60],[158,59],[160,58],[162,57],[164,56],[166,55],[168,54],[126,120],[130,115],[134,110],[138,105],[142,100],[146,95],[150,90],[154,85],[158,78],[162,72],[166,68],[170,65],[140,135],[145,130],[150,125]];

var kryRSpr = [[96,210],[100,205],[102,200],[105,198],[108,200],[110,205],[112,208],[115,210],[118,205],[120,210],[125,208],[130,212],[133,215],[136,215],[139,218],[142,216],[145,210],[148,200],[151,195],[154,190],[157,185],[160,180],[163,175],[166,170],[169,168],[172,166],[175,164],[178,162],[181,160],[184,150],[186,130],[120,180],[125,185],[130,190],[135,200],[140,188],[120,235],[128,230],[140,225],[165,225],[175,220],[182,190],[98,150],[100,145],[102,178],[106,182],[108,185],[110,190],[160,110],[165,130],[170,95],[183,40],[188,45],[192,20],[195,15],[200,5],[85,80],[88,70],[90,55],[95,35],[100,30],[105,28],[110,26],[115,24],[120,22],[125,20],[130,18],[135,17],[140,16],[145,15],[150,14],[155,13],[160,12],[165,11],[170,10],[175,9],[180,8],[185,7],[190,6],[93,40],[98,25],[103,20],[108,18],[113,16],[118,14],[123,12],[128,10],[133,9],[138,8],[143,7],[148,6],[153,5],[158,5],[163,5],[168,5],[173,5],[178,5],[175,15],[170,15],[165,20],[150,15]];
var kryRSum = [[26,470],[28,468],[30,465],[32,460],[34,458],[36,456],[38,454],[40,452],[42,450],[44,448],[46,446],[48,444],[27,440],[27,410],[28,405],[30,402],[32,400],[35,398],[38,396],[40,395],[43,394],[46,393],[50,393],[54,390],[36,420],[40,418],[75,460],[78,458],[80,456],[83,454],[86,450],[90,445],[93,440],[96,436],[70,432],[75,430],[80,428],[85,426],[90,424],[95,422],[60,445],[88,233],[90,230],[92,228],[95,212],[98,195],[100,190],[96,70],[100,68]];
var kryRAut = [[27,505],[27,495],[27,488],[45,505],[48,500],[50,495],[52,490],[55,485],[58,482],[60,478],[63,474],[66,470],[69,466],[72,462],[75,458],[78,454],[81,450],[84,446],[50,480],[53,476],[56,472],[59,468],[62,464],[65,460],[68,455],[71,450],[74,445],[77,440],[80,436],[83,432],[86,428],[55,500],[60,497],[65,494],[70,490],[85,520],[88,520],[90,518],[95,495],[93,490],[90,470],[86,420],[88,375],[85,395],[100,400],[100,390],[100,418],[112,320],[130,418],[95,210],[96,205],[98,195],[100,185],[102,170],[104,160],[106,60],[108,55],[110,50],[112,48],[115,46],[118,44],[120,42],[122,45],[125,48],[128,50],[131,52],[134,52],[137,50],[140,48],[143,46],[146,44],[149,42],[152,40],[115,30],[120,28],[125,25],[130,22],[135,30],[140,35],[145,38],[150,40],[155,45],[135,130],[128,70],[130,60],[103,140],[104,130]];
var kryRWin = [[96,180],[97,172],[98,165],[99,158],[100,150],[101,143],[102,136],[104,130],[106,124],[108,118],[110,112],[112,106],[114,101],[116,96],[118,92],[120,88],[122,84],[124,82],[126,80],[128,78],[130,76],[98,140],[100,132],[102,125],[104,118],[106,112],[108,105],[110,100],[112,94],[114,88],[116,84],[118,80],[120,76],[122,72],[124,68],[126,64],[128,60],[130,56],[100,120],[102,114],[104,108],[106,102],[108,96],[110,90],[112,85],[114,80],[116,75],[118,70],[120,66],[122,62],[124,58],[126,55],[128,52],[130,50]];

// labels
var seasons = ['Spring', 'Summer', 'Autumn', 'Winter'];
var siteTitles = ['Bruntland Burn, forest', 'Bruntland Burn, heather', 'Dorset', 'Krycklan'];
var ageSubs = ['Sf', 'E', 'T', 'R'];
var storageNames = ['Storage [mm]', 'Storage in top 10 cm [mm]', 'Root zone storage [mm]', 'Storage [mm]'];

// tick labels, panels row by row
var xTicks = [
  [50,100,150,200], [50,100,150], [100,150,200], [50,100,150,200],
  [10,20,30,40,50], [10,20,30,40], [10,20,30,40], [20,40],
  [50,100,150,200], [20,40,60], [50,100,150,200], [50,100,150,200],
  [50,100,150,200], [100,150], [50,100,150,200], [50,100,150,200]
];
var yTicks = [
  [0,50,100,150], [0,50,100], [0,50,100,150], [0,50,100,150],
  [0,20,40,60], [0,50,100], [0,50,100], [0,100,200],
  [0,100,200], [0,50,100], [0,50,100], [0,200,400],
  [0,100,200,300], [0,50,100,150], [0,100,200,300], [0,200,400]
];

var panelData = [
  [bbfSfSpr, bbfSfSum, bbfSfAut, bbfSfWin], [bbhSfSpr, bbhSfSum, bbhSfAut, bbhSfWin],
  [dorSfSpr, dorSfSum, dorSfAut, dorSfWin], [krySfSpr, krySfSum, krySfAut, krySfWin],
  [bbfESpr, bbfESum, bbfEAut, bbfEWin], [bbhESpr, bbhESum, bbhEAut, bbhEWin],
  [dorESpr, dorESum, dorEAut, dorEWin], [kryESpr, kryESum, kryEAut, kryEWin],
  [bbfTSpr, bbfTSum, bbfTAut, bbfTWin], [bbhTSpr, bbhTSum, bbhTAut, bbhTWin],
  [dorTSpr, dorTSum, dorTAut, dorTWin], [kryTSpr, kryTSum, kryTAut, kryTWin],
  [bbfRSpr, bbfRSum, bbfRAut, bbfRWin], [bbhRSpr, bbhRSum, bbhRAut, bbhRWin],
  [dorRSpr, dorRSum, dorRAut, dorRWin], [kryRSpr, kryRSum, kryRAut, kryRWin]
];

// axis extents (matplotlib auto-limits as seen in the figure)
var xRange = [
  [50,219], [42.5,185], [61.5,217], [16,208.5],
  [7.2,51], [7.2,48], [9,47.7], [3.5,53.3],
  [29,219], [12.2,72.4], [37.7,218], [16,208.5],
  [41.5,218], [54,185], [39.3,218], [16,208.5]
];
var yRange = [
  [0,151], [0,109], [0,150.5], [0,179],
  [0,79.5], [0,103.5], [0,143], [0,290],
  [0,280], [0,103], [0,147], [0,461],
  [0,324], [0,172.5], [0,355], [0,555]
];

var FONT = 'Liberation Sans, Arial, sans-serif';
var INK = '#262626';
var fills = ['rgba(34,160,20,0.36)', 'rgba(128,0,0,0.36)', 'rgba(255,140,0,0.36)', 'rgba(65,105,225,0.36)'];
var edges = ['rgba(34,140,20,0.5)', 'rgba(110,0,0,0.5)', 'rgba(220,110,0,0.5)', 'rgba(50,80,200,0.5)'];

var colLeft = [88, 390, 688, 988];
var colWidth = [250, 248, 250, 250];
var rowTop = [32, 270, 508, 747];
var rowHeight = [176, 176, 177, 175];

var grids = [], xAxes = [], yAxes = [], series = [], titles = [];

for (var r = 0; r < 4; r++) {
  for (var c = 0; c < 4; c++) {
    var i = r * 4 + c;
    grids.push({
      left: colLeft[c], top: rowTop[r], width: colWidth[c], height: rowHeight[r],
      show: true, borderColor: '#4d4d4d', borderWidth: 1.2, backgroundColor: 'transparent'
    });
    xAxes.push({
      type: 'value', gridIndex: i, min: xRange[i][0], max: xRange[i][1],
      axisLine: {show: false},
      splitLine: {show: false},
      axisTick: {show: true, length: 5, lineStyle: {color: '#4d4d4d', width: 1.2}, customValues: xTicks[i]},
      axisLabel: {customValues: xTicks[i], fontSize: 20, color: INK, fontFamily: FONT, margin: 12},
      name: storageNames[r], nameLocation: 'middle', nameGap: 38,
      nameTextStyle: {fontSize: 22, color: INK, fontFamily: FONT}
    });
    var ya = {
      type: 'value', gridIndex: i, min: yRange[i][0], max: yRange[i][1],
      axisLine: {show: false},
      splitLine: {show: false},
      axisTick: {show: true, length: 5, lineStyle: {color: '#4d4d4d', width: 1.2}, customValues: yTicks[i]},
      axisLabel: {customValues: yTicks[i], fontSize: 20, color: INK, fontFamily: FONT, margin: 11}
    };
    if (c === 0) {
      ya.name = '{a|A}{s|' + ageSubs[r] + '}{a| [days]}';
      ya.nameLocation = 'middle';
      ya.nameRotate = 90;
      ya.nameGap = 52;
      ya.nameTextStyle = {
        rich: {
          a: {fontSize: 22, lineHeight: 28, verticalAlign: 'bottom', color: INK, fontFamily: FONT},
          s: {fontSize: 14, lineHeight: 14, verticalAlign: 'bottom', fontStyle: 'italic', color: INK, fontFamily: FONT}
        }
      };
    }
    yAxes.push(ya);
    for (var s = 0; s < 4; s++) {
      series.push({
        type: 'scatter', name: seasons[s],
        xAxisIndex: i, yAxisIndex: i,
        data: panelData[i][s],
        symbolSize: 8.5,
        clip: true,
        silent: true,
        itemStyle: {color: fills[s], borderColor: edges[s], borderWidth: 0.7}
      });
    }
  }
}

for (var t = 0; t < 4; t++) {
  titles.push({
    text: siteTitles[t], left: colLeft[t] + colWidth[t] / 2, top: 6, textAlign: 'center', padding: 0,
    textStyle: {fontSize: 24, fontWeight: 'normal', color: INK, fontFamily: FONT}
  });
}

var myChart = echarts.init(document.getElementById('app'));
myChart.setOption({
  backgroundColor: '#fff',
  animation: false,
  title: titles,
  legend: {
    data: seasons, orient: 'vertical', left: 208, top: 46,
    icon: 'circle', itemWidth: 7, itemHeight: 7, itemGap: 4,
    selectedMode: false,
    textStyle: {fontSize: 20, color: INK, fontFamily: FONT, padding: [0, 0, 0, 14]}
  },
  grid: grids,
  xAxis: xAxes,
  yAxis: yAxes,
  series: series
});
</script>
</body>
</html>
